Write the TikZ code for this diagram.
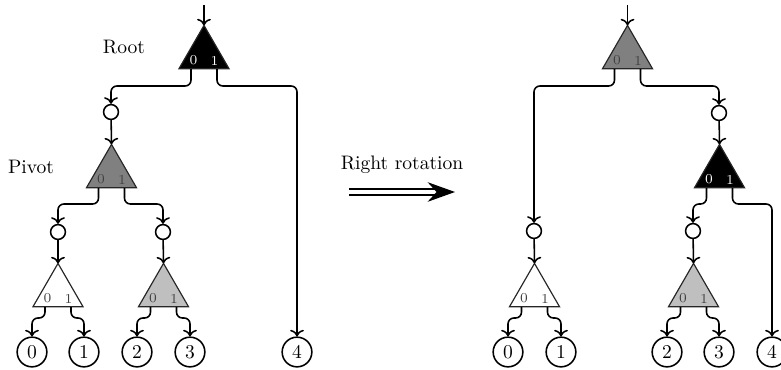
\documentclass[tikz,border=0pt]{standalone}
\usetikzlibrary{shapes.geometric, arrows.meta}

\begin{document}
\begin{tikzpicture}[x=0.512pt, y=-0.512pt, >=To,
  tri/.style={regular polygon, regular polygon sides=3, draw=black!85, semithick, minimum size=29.6pt, inner sep=0pt, outer sep=0pt},
  bit/.style={font=\scriptsize, text=black!75, inner sep=0pt},
  hub/.style={circle, draw, thick, minimum size=7.6pt, inner sep=0pt},
  leaf/.style={circle, draw, thick, minimum size=15.2pt, inner sep=0pt},
  conn/.style={->, thick, rounded corners=3pt}]

\useasboundingbox (0,0) rectangle (781,369);

% Left tree (before)
\node at (124,47) {Root};
\node at (31,167) {Pivot};

\coordinate (in) at (204,5);
\node[tri, fill=black] (root) at (204,54.3) {};
\node[bit, text=white] at (193.5,60.5) {0};
\node[bit, text=white] at (214.5,60.5) {1};
\coordinate (root0) at (191,69);
\coordinate (root1) at (217,69);

\node[hub] (hA) at (111,112) {};

\node[tri, fill=black!50] (piv) at (111.5,173.3) {};
\node[bit] at (101,179.5) {0};
\node[bit] at (122,179.5) {1};
\coordinate (piv0) at (98.5,188);
\coordinate (piv1) at (124.5,188);

\node[hub] (hB) at (58,232) {};
\node[hub] (hC) at (163,232) {};

\node[tri, fill=white] (ta) at (58,292.3) {};
\node[bit] at (47.5,298.5) {0};
\node[bit] at (68.5,298.5) {1};
\coordinate (ta0) at (45,307);
\coordinate (ta1) at (71,307);

\node[tri, fill=black!25] (tb) at (163.5,292.3) {};
\node[bit] at (153,298.5) {0};
\node[bit] at (174,298.5) {1};
\coordinate (tb0) at (150.5,307);
\coordinate (tb1) at (176.5,307);

\node[leaf] (l0) at (32,352) {0};
\node[leaf] (l1) at (84,352) {1};
\node[leaf] (l2) at (137,352) {2};
\node[leaf] (l3) at (190,352) {3};
\node[leaf] (l4) at (297,352) {4};

\draw[conn] (in) -- (root.north);
\draw[conn] (root0) -- ++(0,17) -| (hA.north);
\draw[conn] (root1) -- ++(0,17) -| (l4.north);
\draw[conn] (hA) -- (piv.north);
\draw[conn] (piv0) -- ++(0,16) -| (hB.north);
\draw[conn] (piv1) -- ++(0,16) -| (hC.north);
\draw[conn] (hB) -- (ta.north);
\draw[conn] (hC) -- (tb.north);
\draw[conn] (ta0) -- ++(0,11) -| (l0.north);
\draw[conn] (ta1) -- ++(0,11) -| (l1.north);
\draw[conn] (tb0) -- ++(0,11) -| (l2.north);
\draw[conn] (tb1) -- ++(0,11) -| (l3.north);

% Rotation arrow
\node at (402,165) {Right rotation};
\coordinate (rotS) at (349,192);
\coordinate (rotE) at (455,192);
\draw[double, double distance=2pt, line width=0.8pt, -{Stealth[length=14pt, width=10pt]}] (rotS) -- (rotE);

% Right tree (after)
\coordinate (inR) at (627.5,5);
\node[tri, fill=black!50] (pivR) at (627.5,54.3) {};
\node[bit] at (617,60.5) {0};
\node[bit] at (638,60.5) {1};
\coordinate (pivR0) at (614.5,69);
\coordinate (pivR1) at (640.5,69);

\node[hub] (hR1) at (719,113) {};

\node[tri, fill=black] (rootR) at (719.5,173.3) {};
\node[bit, text=white] at (709,179.5) {0};
\node[bit, text=white] at (730,179.5) {1};
\coordinate (rootR0) at (706.5,188);
\coordinate (rootR1) at (732.5,188);

\node[hub] (hR2) at (534,231) {};
\node[hub] (hR3) at (693,231) {};

\node[tri, fill=white] (taR) at (534.5,292.3) {};
\node[bit] at (524,298.5) {0};
\node[bit] at (545,298.5) {1};
\coordinate (taR0) at (521.5,307);
\coordinate (taR1) at (547.5,307);

\node[tri, fill=black!25] (tbR) at (693.5,292.3) {};
\node[bit] at (683,298.5) {0};
\node[bit] at (704,298.5) {1};
\coordinate (tbR0) at (680.5,307);
\coordinate (tbR1) at (706.5,307);

\node[leaf] (r0) at (508,352) {0};
\node[leaf] (r1) at (561,352) {1};
\node[leaf] (r2) at (667,352) {2};
\node[leaf] (r3) at (719,352) {3};
\node[leaf] (r4) at (772,352) {4};

\draw[conn] (inR) -- (pivR.north);
\draw[conn] (pivR0) -- ++(0,17) -| (hR2.north);
\draw[conn] (pivR1) -- ++(0,17) -| (hR1.north);
\draw[conn] (hR1) -- (rootR.north);
\draw[conn] (rootR0) -- ++(0,16) -| (hR3.north);
\draw[conn] (rootR1) -- ++(0,16) -| (r4.north);
\draw[conn] (hR2) -- (taR.north);
\draw[conn] (hR3) -- (tbR.north);
\draw[conn] (taR0) -- ++(0,11) -| (r0.north);
\draw[conn] (taR1) -- ++(0,11) -| (r1.north);
\draw[conn] (tbR0) -- ++(0,11) -| (r2.north);
\draw[conn] (tbR1) -- ++(0,11) -| (r3.north);

\end{tikzpicture}
\end{document}
